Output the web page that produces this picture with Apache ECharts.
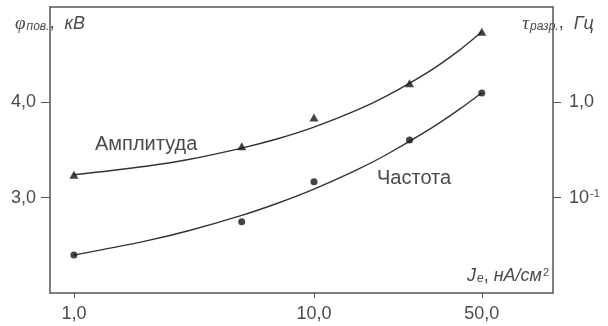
<!DOCTYPE html>
<html>
<head>
<meta charset="utf-8">
<script src="https://cdn.jsdelivr.net/npm/echarts@6/dist/echarts.min.js"></script>
<style>
  html, body { margin: 0; padding: 0; background: #fff; }
  #chart { width: 608px; height: 326px; }
</style>
</head>
<body>
<div id="chart"></div>
<script>
// Current density J_e, nA/cm^2 (log scale)
const currentDensity = [1, 5, 10, 25, 50];
// Measured surface potential amplitude, kV
const amplitudeKV = [3.24, 3.54, 3.84, 4.20, 4.74];
// Measured discharge frequency, Hz
const frequencyHz = [0.0251, 0.0559, 0.147, 0.402, 1.256];

// Smooth trend curves drawn through the measurements
const trendX = [1, 2, 3, 5, 7, 10, 15, 20, 30, 40, 50];
const amplitudeTrend = [3.24, 3.33, 3.40, 3.52, 3.615, 3.74, 3.915, 4.065, 4.32, 4.54, 4.74];
const frequencyTrend = [0.0250, 0.0352, 0.0450, 0.0652, 0.0869, 0.123, 0.1945, 0.282, 0.513, 0.832, 1.259];

// Axis ticks and their labels
const xTicks = [1, 10, 50];
const xTickLabels = ['1,0', '10,0', '50,0'];
const kvTicks = [3, 4];
const kvTickLabels = ['3,0', '4,0'];
const hzTicks = [0.1, 1];
const hzTickLabels = ['10{sup|-1}', '1,0'];

const FONT = '"Liberation Sans", Arial, sans-serif';
const TEXT = '#4a4a4a';
const LINE = '#555';
const MARK = '#151515';

function pick(ticks, labels, v) {
  let best = 0;
  for (let i = 1; i < ticks.length; i++) {
    if (Math.abs(Math.log(ticks[i] / v)) < Math.abs(Math.log(ticks[best] / v))) best = i;
  }
  return labels[best];
}

const zip = (xs, ys) => xs.map((x, i) => [x, ys[i]]);

const chart = echarts.init(document.getElementById('chart'), null, { renderer: 'canvas' });

const richBase = {
  it: { fontStyle: 'italic', fontSize: 18, color: TEXT, fontFamily: FONT },
  sym: { fontStyle: 'italic', fontSize: 19, color: TEXT, fontFamily: 'serif' },
  sub: { fontStyle: 'italic', fontSize: 12, color: TEXT, fontFamily: FONT, verticalAlign: 'bottom', padding: [6, 0, 0, 1] },
  sup: { fontSize: 11, color: TEXT, fontFamily: FONT, verticalAlign: 'top', padding: [0, 0, 7, 1] },
  n: { fontSize: 18, color: TEXT, fontFamily: FONT }
};

chart.setOption({
  animation: false,
  backgroundColor: '#fff',
  grid: { left: 50, right: 55, top: 7, bottom: 33 },
  xAxis: [
    {
      type: 'log',
      logBase: 10,
      position: 'bottom',
      min: 0.795,
      max: 99,
      axisLine: { show: true, lineStyle: { color: LINE, width: 1.5 } },
      axisTick: { show: true, customValues: xTicks, length: 5, inside: false, lineStyle: { color: LINE } },
      axisLabel: {
        customValues: xTicks,
        margin: 12,
        fontSize: 18,
        fontFamily: FONT,
        color: TEXT,
        formatter: (v) => pick(xTicks, xTickLabels, v)
      },
      splitLine: { show: false },
      minorTick: { show: false },
      name: '{it|J}{sub|e}{n|, }{it|нА/см}{sup|2}',
      nameLocation: 'end',
      nameGap: -4,
      nameMoveOverlap: false,
      nameTextStyle: { align: 'right', verticalAlign: 'bottom', padding: [0, 0, 8, 0], rich: richBase }
    },
    {
      type: 'value',
      position: 'top',
      min: 0,
      max: 1,
      axisLine: { show: true, lineStyle: { color: LINE, width: 1.5 } },
      axisTick: { show: false },
      axisLabel: { show: false },
      splitLine: { show: false }
    }
  ],
  yAxis: [
    {
      type: 'value',
      position: 'left',
      min: 2,
      max: 5,
      axisLine: { show: true, lineStyle: { color: LINE, width: 1.5 } },
      axisTick: { show: true, customValues: kvTicks, length: 9, inside: false, lineStyle: { color: LINE } },
      axisLabel: {
        customValues: kvTicks,
        margin: 14,
        fontSize: 18,
        fontFamily: FONT,
        color: TEXT,
        formatter: (v) => pick(kvTicks, kvTickLabels, v)
      },
      splitLine: { show: false },
      name: '{sym|φ}{sub|пов.}{n|,  }{it|кВ}',
      nameLocation: 'end',
      nameGap: -5,
      nameMoveOverlap: false,
      nameTextStyle: {
        align: 'center', verticalAlign: 'top',
        backgroundColor: '#fff', padding: [2, 4, 5, 4],
        rich: richBase
      }
    },
    {
      type: 'log',
      logBase: 10,
      position: 'right',
      min: 0.01,
      max: 10,
      axisLine: { show: true, lineStyle: { color: LINE, width: 1.5 } },
      axisTick: { show: true, customValues: hzTicks, length: 8, inside: false, lineStyle: { color: LINE } },
      axisLabel: {
        customValues: hzTicks,
        margin: 16,
        fontSize: 18,
        fontFamily: FONT,
        color: TEXT,
        formatter: (v) => pick(hzTicks, hzTickLabels, v),
        rich: richBase
      },
      splitLine: { show: false },
      minorTick: { show: false },
      name: '{sym|τ}{sub|разр.}{n|,  }{it|Гц}',
      nameLocation: 'end',
      nameGap: -5,
      nameMoveOverlap: false,
      nameTextStyle: {
        align: 'center', verticalAlign: 'top',
        backgroundColor: '#fff', padding: [2, 2, 6, 12],
        rich: richBase
      }
    }
  ],
  series: [
    {
      name: 'Амплитуда',
      type: 'line',
      xAxisIndex: 0, yAxisIndex: 0,
      data: zip(trendX, amplitudeTrend),
      smooth: 0.35,
      showSymbol: false,
      silent: true,
      lineStyle: { color: '#333', width: 1.4 },
      z: 2
    },
    {
      name: 'Амплитуда, точки',
      type: 'scatter',
      xAxisIndex: 0, yAxisIndex: 0,
      data: zip(currentDensity, amplitudeKV),
      symbol: 'triangle',
      symbolSize: [9, 8],
      itemStyle: { color: MARK },
      silent: true,
      z: 3
    },
    {
      name: 'Частота',
      type: 'line',
      xAxisIndex: 0, yAxisIndex: 1,
      data: zip(trendX, frequencyTrend),
      smooth: 0.35,
      showSymbol: false,
      silent: true,
      lineStyle: { color: '#333', width: 1.4 },
      z: 2
    },
    {
      name: 'Частота, точки',
      type: 'scatter',
      xAxisIndex: 0, yAxisIndex: 1,
      data: zip(currentDensity, frequencyHz),
      symbol: 'circle',
      symbolSize: 7,
      itemStyle: { color: MARK },
      silent: true,
      z: 3
    }
  ],
  graphic: [
    {
      type: 'text', left: 95, top: 134, silent: true,
      style: { text: 'Амплитуда', fontSize: 20, fontFamily: FONT, fill: TEXT }
    },
    {
      type: 'text', left: 377, top: 168, silent: true,
      style: { text: 'Частота', fontSize: 20, fontFamily: FONT, fill: TEXT }
    }
  ]
});
</script>
</body>
</html>
